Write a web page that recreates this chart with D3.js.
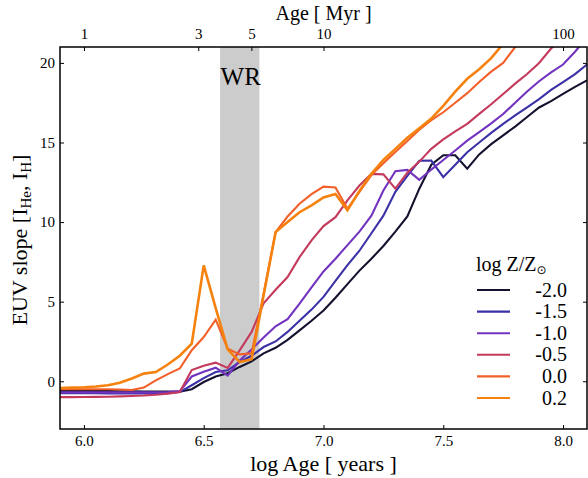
<!DOCTYPE html>
<html>
<head>
<meta charset="utf-8">
<script src="https://cdn.jsdelivr.net/npm/d3@7"></script>
<style>
  body { margin: 0; background: #fff; }
  svg text { font-family: "Liberation Serif", "DejaVu Serif", serif; fill: #000; }
</style>
</head>
<body>
<div id="chart"></div>
<script>
// EUV slope vs log age, one line per metallicity
const logAge = [5.90, 5.95, 6.00, 6.05, 6.10, 6.15, 6.20, 6.25, 6.30, 6.35, 6.40, 6.45, 6.50, 6.55, 6.60,
  6.65, 6.70, 6.75, 6.80, 6.85, 6.90, 6.95, 7.00, 7.05, 7.10, 7.15, 7.20, 7.25, 7.30, 7.35,
  7.40, 7.45, 7.50, 7.55, 7.60, 7.65, 7.70, 7.75, 7.80, 7.85, 7.90, 7.95, 8.00, 8.05, 8.10];

const slopeZm20 = [-0.62, -0.62, -0.62, -0.62, -0.62, -0.63, -0.63, -0.64, -0.64, -0.65, -0.66, -0.5, -0.05, 0.3, 0.5,
  0.9, 1.25, 1.75, 2.1, 2.6, 3.2, 3.8, 4.45, 5.25, 6.1, 6.95, 7.7, 8.5, 9.4, 10.35,
  12.1, 13.6, 14.2, 14.2, 13.35, 14.25, 14.9, 15.45, 16.0, 16.6, 17.2, 17.6, 18.05, 18.5, 18.9];
const slopeZm15 = [-0.75, -0.75, -0.75, -0.75, -0.76, -0.76, -0.77, -0.77, -0.77, -0.75, -0.68, -0.25, 0.2, 0.58, 0.69,
  1.21, 1.6, 2.15, 2.5, 3.1, 3.8, 4.5, 5.3, 6.3, 7.3, 8.2, 9.3, 10.4, 11.9, 12.9,
  13.85, 13.86, 12.82, 13.6, 14.39, 15.0, 15.6, 16.17, 16.7, 17.2, 17.73, 18.3, 18.8, 19.3, 19.9];
const slopeZm10 = [-0.7, -0.7, -0.7, -0.7, -0.7, -0.7, -0.7, -0.7, -0.7, -0.68, -0.62, 0.3, 0.6, 0.85, 0.35,
  1.3, 2.0, 2.75, 3.45, 3.9, 4.87, 5.9, 6.9, 7.7, 8.55, 9.4, 10.4, 11.98, 13.2, 13.28,
  12.65, 13.3, 13.9, 14.5, 15.12, 15.65, 16.2, 16.79, 17.5, 18.2, 18.85, 19.4, 19.9, 20.7, 21.6];
const slopeZm05 = [-1.0, -1.0, -0.99, -0.98, -0.97, -0.95, -0.93, -0.9, -0.85, -0.78, -0.68, 0.7, 0.98, 1.17, 0.84,
  1.94, 3.1, 4.9, 5.75, 6.55, 7.8, 8.85, 9.75, 10.31, 11.36, 12.3, 13.03, 13.0, 12.1, 13.1,
  13.8, 14.6, 15.2, 15.7, 16.17, 16.8, 17.4, 18.05, 18.7, 19.3, 20.0, 20.9, 21.6, 22.3, 23.0];
const slopeZ00 = [-0.5, -0.5, -0.5, -0.5, -0.5, -0.52, -0.55, -0.4, 0.06, 0.45, 0.8, 1.95, 2.78, 3.87, 2.05,
  1.69, 1.75, 5.5, 9.37, 10.35, 11.15, 11.75, 12.23, 12.17, 10.83, 11.9, 12.95, 13.7, 14.4, 15.1,
  15.8, 16.4, 16.9, 17.5, 18.1, 18.8, 19.45, 20.0, 21.0, 21.8, 22.6, 23.4, 24.2, 25.0, 25.8];
const slopeZ02 = [-0.42, -0.4, -0.38, -0.33, -0.25, -0.1, 0.17, 0.48, 0.58, 1.05, 1.6, 2.36, 7.28, 4.6, 2.0,
  1.21, 1.38, 5.4, 9.37, 10.0, 10.62, 11.05, 11.55, 11.77, 10.75, 11.95, 13.03, 13.9, 14.6, 15.3,
  15.9, 16.5, 17.3, 18.2, 19.0, 19.6, 20.3, 21.2, 22.2, 23.1, 24.0, 24.9, 25.8, 26.7, 27.6];

const metallicities = ["-2.0", "-1.5", "-1.0", "-0.5", "0.0", "0.2"];
const seriesValues = [slopeZm20, slopeZm15, slopeZm10, slopeZm05, slopeZ00, slopeZ02];
const colors = ["#14122e", "#3b31a6", "#7234bf", "#c43a5c", "#f2602a", "#f5820f"];

const xTicks = [6.0, 6.5, 7.0, 7.5, 8.0];
const yTicks = [0, 5, 10, 15, 20];
const myrTicks = [1, 3, 5, 10, 100];
const wrBandMyr = [3.7, 5.4];

(function () {
  const width = 588, height = 478;
  const margin = { top: 47, right: 1, bottom: 49, left: 60 };
  const x0 = margin.left, x1 = width - margin.right;
  const y0 = height - margin.bottom, y1 = margin.top;

  const svg = d3.select("#chart").append("svg").attr("width", width).attr("height", height);

  const x = d3.scaleLinear().domain([5.9, 8.1]).range([x0, x1]);
  const y = d3.scaleLinear().domain([-3, 21]).range([y0, y1]);
  const xMyr = d3.scaleLog().domain([Math.pow(10, 5.9 - 6), Math.pow(10, 8.1 - 6)]).range([x0, x1]);

  svg.append("defs").append("clipPath").attr("id", "plot-clip")
    .append("rect").attr("x", x0).attr("y", y1).attr("width", x1 - x0).attr("height", y0 - y1);

  // WR band
  svg.append("rect")
    .attr("x", xMyr(wrBandMyr[0])).attr("y", y1)
    .attr("width", xMyr(wrBandMyr[1]) - xMyr(wrBandMyr[0]))
    .attr("height", y0 - y1)
    .attr("fill", "#cccccc");

  svg.append("text")
    .attr("x", (xMyr(wrBandMyr[0]) + xMyr(wrBandMyr[1])) / 2 + 1)
    .attr("y", 85)
    .attr("text-anchor", "middle")
    .style("font-size", "25px")
    .text("WR");

  // lines
  const line = d3.line().x((d) => x(d[0])).y((d) => y(d[1]));
  const plot = svg.append("g").attr("clip-path", "url(#plot-clip)");
  seriesValues.forEach((vals, i) => {
    plot.append("path")
      .datum(logAge.map((a, j) => [a, vals[j]]))
      .attr("fill", "none")
      .attr("stroke", colors[i])
      .attr("stroke-width", i === 5 ? 2.6 : 2.1)
      .attr("stroke-linejoin", "miter")
      .attr("d", line);
  });

  // axes (ticks pointing inward)
  const styleAxis = (g) => {
    g.select(".domain").remove();
    g.selectAll(".tick line").attr("stroke", "#000").attr("stroke-width", 1);
    g.selectAll(".tick text").style("font-size", "15px").attr("font-family", null);
  };

  svg.append("g").attr("transform", `translate(0,${y0})`)
    .call(d3.axisBottom(x).tickValues(xTicks).tickFormat(d3.format(".1f")).tickSize(-4).tickPadding(6))
    .call(styleAxis);

  svg.append("g").attr("transform", `translate(${x0},0)`)
    .call(d3.axisLeft(y).tickValues(yTicks).tickFormat(d3.format("d")).tickSize(-4).tickPadding(5))
    .call(styleAxis);

  svg.append("g").attr("transform", `translate(${x1},0)`)
    .call(d3.axisRight(y).tickValues(yTicks).tickFormat("").tickSize(-4))
    .call(styleAxis);

  svg.append("g").attr("transform", `translate(0,${y1})`)
    .call(d3.axisTop(xMyr).tickValues(myrTicks).tickFormat(d3.format("d")).tickSize(-4).tickPadding(8))
    .call(styleAxis);

  svg.append("rect")
    .attr("x", x0).attr("y", y1).attr("width", x1 - x0).attr("height", y0 - y1)
    .attr("fill", "none").attr("stroke", "#000").attr("stroke-width", 1.5);

  // axis labels
  svg.append("text")
    .attr("x", (x0 + x1) / 2).attr("y", 471)
    .attr("text-anchor", "middle").style("font-size", "22px")
    .text("log Age [ years ]");

  svg.append("text")
    .attr("x", (x0 + x1) / 2).attr("y", 20)
    .attr("text-anchor", "middle").style("font-size", "20px")
    .text("Age [ Myr ]");

  const yLabel = svg.append("text")
    .attr("transform", "translate(27,240) rotate(-90)")
    .attr("text-anchor", "middle").style("font-size", "22px");
  yLabel.append("tspan").text("EUV slope [I");
  yLabel.append("tspan").attr("dy", 4).style("font-size", "15px").text("He");
  yLabel.append("tspan").attr("dy", -4).text(", I");
  yLabel.append("tspan").attr("dy", 4).style("font-size", "15px").text("H");
  yLabel.append("tspan").attr("dy", -4).text("]");

  // legend
  const legend = svg.append("g");
  const title = legend.append("text").attr("x", 476).attr("y", 271).style("font-size", "20px");
  title.append("tspan").text("log Z/Z");
  title.append("tspan").attr("dy", 3).style("font-size", "12px")
    .attr("font-family", "DejaVu Sans").text("\u2299");

  metallicities.forEach((label, i) => {
    const ry = 290 + i * 21.6;
    legend.append("line")
      .attr("x1", 477).attr("x2", 510).attr("y1", ry).attr("y2", ry)
      .attr("stroke", colors[i]).attr("stroke-width", 2.1);
    legend.append("text")
      .attr("x", 567).attr("y", ry + 6.5)
      .attr("text-anchor", "end").style("font-size", "20px")
      .text(label);
  });
})();
</script>
</body>
</html>
